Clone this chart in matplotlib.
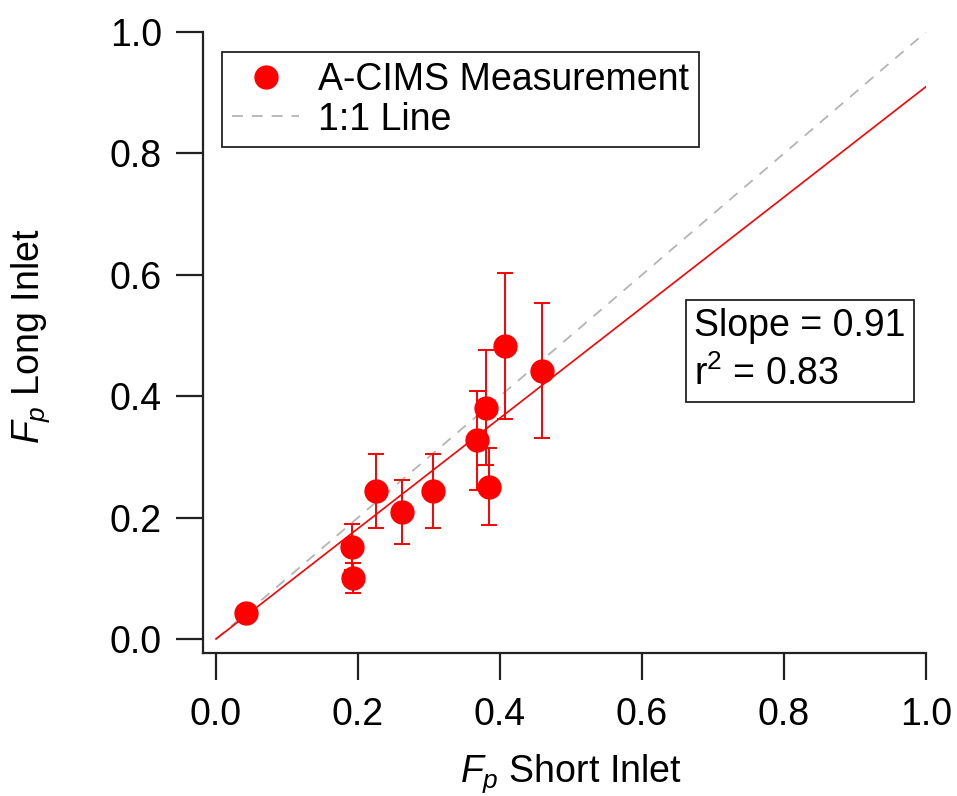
import matplotlib
matplotlib.use("Agg")
import matplotlib.pyplot as plt
import numpy as np

plt.rcParams['font.family'] = ['Liberation Sans', 'DejaVu Sans']
plt.rcParams['mathtext.fontset'] = 'custom'
plt.rcParams['mathtext.it'] = 'Liberation Sans:italic'
plt.rcParams['mathtext.rm'] = 'Liberation Sans'

# F_p measured with the short inlet vs. the long inlet
fp_short = [0.042, 0.191, 0.193, 0.225, 0.262, 0.305, 0.368, 0.380, 0.384, 0.407, 0.459]
fp_long = [0.042, 0.151, 0.100, 0.244, 0.209, 0.244, 0.327, 0.381, 0.251, 0.483, 0.442]
fp_long_err = [0.0, 0.038, 0.025, 0.061, 0.053, 0.061, 0.082, 0.095, 0.063, 0.120, 0.111]

fit_slope = 0.91
fit_r2 = 0.83
ticks = [0.0, 0.2, 0.4, 0.6, 0.8, 1.0]
tick_labels = ["0.0", "0.2", "0.4", "0.6", "0.8", "1.0"]

FS = 27
W, H = 957, 796
fig = plt.figure(figsize=(W / 100, H / 100), dpi=100)
ax = fig.add_axes([203 / W, (H - 653) / H, (926 - 203) / W, (653 - 32) / H])

red = '#ff0000'
xl = np.array([0.0, 1.0])
ax.plot(xl, xl, color='#b4b4b4', lw=1.3, dashes=(6, 5), label='1:1 Line', zorder=2)
ax.plot(xl, fit_slope * xl, color=red, lw=1.2, zorder=2)
ax.errorbar(fp_short, fp_long, yerr=fp_long_err, fmt='none', ecolor=red,
            elinewidth=1.4, capsize=6, capthick=1.4, zorder=3)
ax.plot(fp_short, fp_long, 'o', color=red, ms=16.5, mec=red,
        label='A-CIMS Measurement', zorder=4)

ax.set_xlim(-0.0183, 1.0)
ax.set_ylim(-0.0231, 1.0)
ax.set_xticks(ticks)
ax.set_xticklabels(tick_labels)
ax.set_yticks(ticks)
ax.set_yticklabels(tick_labels)
for s in ['top', 'right']:
    ax.spines[s].set_visible(False)
for s in ['left', 'bottom']:
    ax.spines[s].set_linewidth(1.6)
    ax.spines[s].set_color('#222222')
ax.tick_params(direction='out', length=19.5, width=1.6, color='#222222',
               labelsize=FS)
ax.tick_params(axis='y', pad=10)
ax.tick_params(axis='x', pad=12)

ax.set_xlabel(r'$F_p$ Short Inlet', fontsize=FS)
ax.set_ylabel(r'$F_p$ Long Inlet', fontsize=FS)
ax.xaxis.set_label_coords((571 - 203) / 723, (653 - 752) / 621)
ax.yaxis.set_label_coords((52 - 203) / 723, (653 - 336) / 621)

handles, labels = ax.get_legend_handles_labels()
order = [1, 0]
leg = ax.legend([handles[i] for i in order], [labels[i] for i in order],
                loc='upper left', bbox_to_anchor=((222 - 203) / 723, (653 - 52) / 621),
                borderaxespad=0, fontsize=FS, frameon=True, fancybox=False,
                edgecolor='#222222', framealpha=1, handlelength=1.8,
                handletextpad=0.5, borderpad=0.26, labelspacing=0.1, markerscale=1.0,
                handleheight=0.7)
leg.get_frame().set_linewidth(1.3)

ax.text((694 - 203) / 723, (653 - 308) / 621, 'Slope = %.2f\nr$^2$ = %.2f' % (fit_slope, fit_r2),
        transform=ax.transAxes, fontsize=FS, va='top', ha='left', linespacing=1.4,
        bbox=dict(boxstyle='square,pad=0.22', fc='white', ec='#222222', lw=1.3))

fig.savefig('out.png', dpi=100)
